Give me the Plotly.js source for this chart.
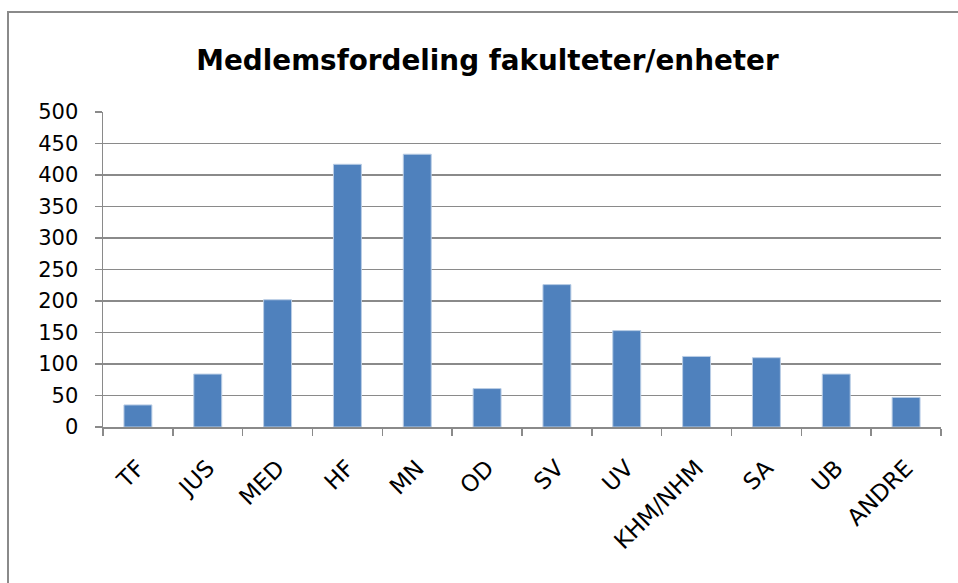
<!DOCTYPE html>
<html>
<head>
<meta charset="utf-8">
<script src="https://cdn.plot.ly/plotly-3.0.1.min.js"></script>
<style>
  html, body { margin: 0; padding: 0; background: #fff; }
  #wrap { position: relative; width: 958px; height: 583px; overflow: hidden; }
  #chart { position: absolute; left: 0; top: 0; width: 958px; height: 583px; }
  #frame { position: absolute; left: 7px; top: 11px; width: 1000px; height: 1000px;
           border: 2px solid #8a8a8a; pointer-events: none; }
</style>
</head>
<body>
<div id="wrap">
  <div id="chart"></div>
  <div id="frame"></div>
</div>
<script>
const categories = ["TF", "JUS", "MED", "HF", "MN", "OD", "SV", "UV", "KHM/NHM", "SA", "UB", "ANDRE"];
const members = [35, 84, 202, 417, 433, 61, 226, 153, 112, 110, 84, 47];
const yTickValues = [0, 50, 100, 150, 200, 250, 300, 350, 400, 450, 500];
const chartTitle = "Medlemsfordeling fakulteter/enheter";

const trace = {
  type: "bar",
  x: categories,
  y: members,
  marker: { color: "#4F81BD", line: { color: "#B9CDE5", width: 1 } },
  hoverinfo: "x+y"
};

const layout = {
  width: 958,
  height: 583,
  paper_bgcolor: "rgba(0,0,0,0)",
  plot_bgcolor: "#fff",
  margin: { l: 102.5, r: 17.3, t: 111.7, b: 155.7, pad: 0 },
  bargap: 0.6,
  showlegend: false,
  title: {
    text: "<b>" + chartTitle + "</b>",
    font: { family: "DejaVu Sans", size: 27.8, color: "#000" },
    x: 487.5 / 958, xref: "container", xanchor: "center",
    y: 1 - 60 / 583, yref: "container", yanchor: "middle"
  },
  font: { family: "DejaVu Sans", size: 21, color: "#000" },
  xaxis: {
    type: "category",
    tickangle: -45,
    tickson: "boundaries",
    ticks: "outside",
    ticklen: 7,
    tickcolor: "#8a8a8a",
    tickwidth: 1.5,
    showline: true,
    linecolor: "#8a8a8a",
    linewidth: 1.5,
    showgrid: false,
    tickfont: { family: "DejaVu Sans", size: 23, color: "#000" },
    ticklabelstandoff: 17,
    fixedrange: true
  },
  yaxis: {
    range: [0, 500],
    tickvals: yTickValues,
    ticktext: yTickValues.map(String),
    ticks: "outside",
    ticklen: 7,
    tickcolor: "#8a8a8a",
    tickwidth: 1.5,
    showline: true,
    linecolor: "#8a8a8a",
    linewidth: 1.5,
    showgrid: true,
    gridcolor: "#8a8a8a",
    gridwidth: 1.5,
    zeroline: false,
    tickfont: { family: "DejaVu Sans", size: 21, color: "#000" },
    ticklabelstandoff: 12,
    fixedrange: true
  }
};

Plotly.newPlot("chart", [trace], layout, { displayModeBar: false, staticPlot: true });
</script>
</body>
</html>
